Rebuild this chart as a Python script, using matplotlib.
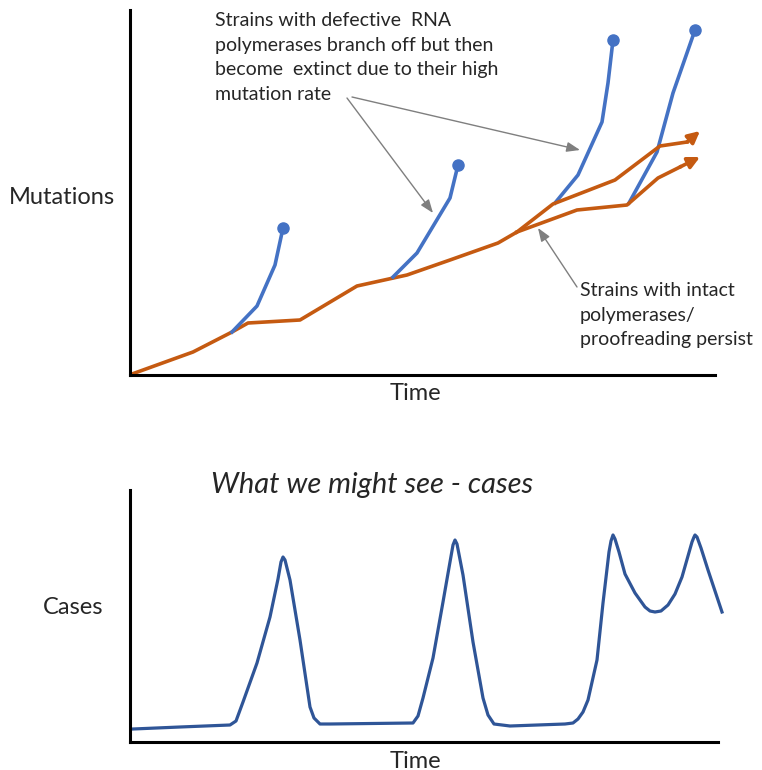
import matplotlib
matplotlib.use("Agg")
import matplotlib.pyplot as plt

W, H = 762, 770

# top panel: mutation trajectories (time, mutations)
TRUNK_T = [2, 63, 102, 118, 170, 227, 277, 320, 368, 387]
TRUNK_M = [1, 23, 43, 52, 55, 89, 100, 115, 132, 143]
UPPER_T = [387, 423, 485, 530, 557, 570]
UPPER_M = [143, 171, 195, 229, 233, 244]
LOWER_T = [387, 447, 497, 528, 550, 570]
LOWER_M = [143, 165, 170, 197, 208, 218]

BRANCHES = [
    ([102, 127, 145, 153], [43, 69, 110, 147]),
    ([263, 287, 320, 328], [98, 122, 177, 210]),
    ([425, 448, 472, 478, 483], [172, 200, 253, 292, 335]),
    ([499, 527, 543, 565], [172, 223, 282, 345]),
]

NOTE_DEFECT = "Strains with defective  RNA\npolymerases branch off but then\nbecome  extinct due to their high\nmutation rate"
NOTE_INTACT = "Strains with intact\npolymerases/\nproofreading persist"

# bottom panel: cases over time
CASE_T = [3, 50, 100, 106, 113, 127, 140, 148, 151, 153, 155, 160, 170, 180, 184, 190, 200,
          283, 288, 293, 303, 313, 320, 323, 325, 327, 333, 343, 353, 358, 364, 380,
          435, 443, 448, 453, 458, 467, 473, 479, 481, 483, 485, 489, 495, 505, 515, 520,
          525, 531, 538, 545, 552, 558, 562, 564, 565, 567, 571, 578, 592]
CASES = [13, 15, 17, 21, 40, 79, 125, 163, 180, 185, 182, 162, 102, 35, 24, 18, 18,
         19, 26, 44, 84, 140, 180, 197, 202, 198, 167, 100, 44, 27, 18, 16,
         18, 19, 23, 30, 42, 82, 139, 190, 201, 207, 203, 190, 168, 149, 135, 131,
         130, 131, 137, 148, 165, 186, 200, 205, 207, 205, 194, 172, 130]

ORANGE = "#C55A11"
BLUE = "#4472C4"
NAVY = "#2F5597"
GREY = "#7F7F7F"
INK = "#262626"

plt.rcParams["font.family"] = ["Lato", "DejaVu Sans"]

fig = plt.figure(figsize=(W / 100, H / 100), dpi=100)


def frame(ax):
    for s in ("top", "right"):
        ax.spines[s].set_visible(False)
    for s in ("left", "bottom"):
        ax.spines[s].set_linewidth(2.2)
        ax.spines[s].set_color("black")
    ax.set_xticks([])
    ax.set_yticks([])


def ftext(x, y, s, **kw):
    fig.text(x / W, 1 - y / H, s, **kw)


# --- top ---
ax = fig.add_axes([130 / W, 1 - 375 / H, 585 / W, 365 / H])
frame(ax)
ax.set_xlim(0, 585)
ax.set_ylim(0, 365)
lw = 2.6
ax.plot(TRUNK_T, TRUNK_M, color=ORANGE, lw=lw, solid_capstyle="butt", solid_joinstyle="round")
for bt, bm in BRANCHES:
    ax.plot(bt, bm, color=BLUE, lw=lw, solid_joinstyle="round", zorder=2)
    ax.plot(bt[-1], bm[-1], "o", color=BLUE, ms=8, zorder=3)
for tt, mm in ((UPPER_T, UPPER_M), (LOWER_T, LOWER_M)):
    ax.plot(tt[:-1], mm[:-1], color=ORANGE, lw=lw, solid_joinstyle="round", zorder=2.5)
    ax.annotate("", xy=(tt[-1], mm[-1]), xytext=(tt[-2], mm[-2]),
                arrowprops=dict(arrowstyle="-|>,head_length=0.7,head_width=0.35",
                                color=ORANGE, lw=lw, shrinkA=0, shrinkB=0), zorder=2.5)

ax.text(85, 363, NOTE_DEFECT, fontsize=14, va="top", ha="left", color=INK,
        linespacing=1.55)
arrow_kw = dict(arrowstyle="-|>,head_length=0.8,head_width=0.3", color=GREY, lw=1,
                shrinkA=0, shrinkB=0)
ax.annotate("", xy=(303, 162), xytext=(217, 277), arrowprops=arrow_kw)
ax.annotate("", xy=(450, 225), xytext=(222, 278), arrowprops=arrow_kw)
ax.annotate("", xy=(408, 147), xytext=(447, 88), arrowprops=arrow_kw)
ax.text(450, 93, NOTE_INTACT, fontsize=14, va="top", ha="left", color=INK,
        linespacing=1.55)

ftext(62, 198, "Mutations", fontsize=17, ha="center", va="center", color=INK)
ftext(415, 393, "Time", fontsize=17, ha="center", va="center", color=INK)

# --- bottom ---
bx = fig.add_axes([130 / W, 1 - 742 / H, 588 / W, 252 / H])
frame(bx)
bx.set_xlim(0, 588)
bx.set_ylim(0, 252)
bx.plot(CASE_T, CASES, color=NAVY, lw=2.3, solid_joinstyle="round", clip_on=False)

ftext(372, 485, "What we might see - cases", fontsize=21, style="italic",
      ha="center", va="center", color=INK)
ftext(73, 608, "Cases", fontsize=17, ha="center", va="center", color=INK)
ftext(415, 761, "Time", fontsize=17, ha="center", va="center", color=INK)

fig.savefig("out.png", dpi=100)
